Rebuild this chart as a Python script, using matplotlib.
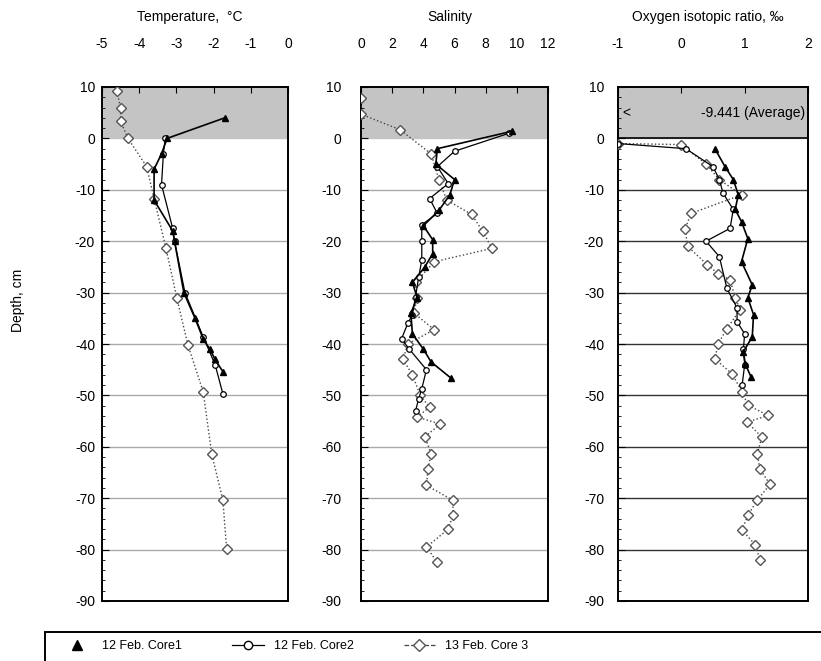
import matplotlib
matplotlib.use("Agg")
import matplotlib.pyplot as plt
from matplotlib.patches import Rectangle
from matplotlib.lines import Line2D

plt.rcParams['font.family'] = ['Liberation Sans', 'DejaVu Sans']
plt.rcParams['font.size'] = 10
plt.rcParams['axes.unicode_minus'] = False

# temperature, deg C
t_d1 = [4, 0, -3, -6, -12, -18, -20, -30, -35, -39, -41, -43, -45.4]
t_v1 = [-1.7, -3.25, -3.4, -3.6, -3.6, -3.1, -3.05, -2.8, -2.5, -2.28, -2.1, -1.96, -1.75]
t_d2 = [0, -3, -9, -17.5, -20, -30, -38.6, -44, -49.7]
t_v2 = [-3.3, -3.35, -3.4, -3.1, -3.05, -2.77, -2.28, -1.96, -1.75]
t_d3 = [9.2, 5.9, 3.3, 0, -5.5, -11.7, -21.4, -31, -40.2, -49.3, -61.4, -70.4, -79.9]
t_v3 = [-4.6, -4.5, -4.5, -4.3, -3.8, -3.6, -3.28, -2.99, -2.69, -2.28, -2.05, -1.75, -1.65]

# salinity
s_d1 = [1.4, -2, -5, -8, -11, -14, -17, -19.7, -22.4, -25, -28, -31, -34, -38, -41, -43.5, -46.7]
s_v1 = [9.7, 4.9, 4.8, 6.0, 5.7, 5.0, 4.0, 4.6, 4.6, 4.1, 3.3, 3.6, 3.2, 3.3, 4.0, 4.5, 5.8]
s_d2 = [1, -2.5, -5.5, -8.8, -11.7, -14.6, -16.8, -20, -23.7, -27, -30.8, -34.3, -36, -39, -41, -45, -48.7, -50.7, -53]
s_v2 = [9.5, 6.0, 4.9, 5.6, 4.4, 4.9, 3.9, 3.9, 3.9, 3.7, 3.5, 3.3, 3.0, 2.6, 3.1, 4.2, 3.9, 3.7, 3.5]
s_d3 = [7.8, 4.7, 1.7, -3, -8, -12, -14.8, -18, -21.4, -24, -28, -31, -34, -37.2, -40, -43, -46, -50, -52.3,
        -54.2, -55.6, -58, -61.4, -64.3, -67.5, -70.4, -73.3, -76, -79.5, -82.5]
s_v3 = [0, 0, 2.5, 4.5, 5.0, 5.5, 7.1, 7.8, 8.4, 4.7, 3.5, 3.6, 3.4, 4.7, 3.0, 2.7, 3.3, 3.8, 4.4,
        3.6, 5.1, 4.1, 4.5, 4.3, 4.2, 5.9, 5.9, 5.6, 4.2, 4.9]

# oxygen isotopic ratio, permil
o_d1 = [-2, -5.5, -8, -11, -13.8, -16.2, -19.5, -24, -28.5, -31, -34.3, -38.6, -41.5, -43.9, -46.4]
o_v1 = [0.53, 0.69, 0.82, 0.9, 0.85, 0.95, 1.05, 0.95, 1.12, 1.05, 1.14, 1.12, 0.98, 1.01, 1.1]
o_d2 = [-1, -2, -5.5, -8, -10.7, -13.8, -17.5, -20, -23, -29.2, -33, -35.7, -38, -41, -44, -48]
o_v2 = [-1.0, 0.07, 0.5, 0.6, 0.66, 0.82, 0.77, 0.39, 0.6, 0.72, 0.88, 0.88, 1.0, 0.98, 1.0, 0.96]
o_d3 = [-1, -1.2, -5, -8, -11, -14.6, -17.7, -21, -24.6, -26.3, -27.5, -31, -33.3, -37, -40, -42.9, -45.8,
        -49.3, -51.9, -53.9, -55.2, -58.1, -61.4, -64.3, -67.3, -70.4, -73.3, -76.2, -79.1, -82]
o_v3 = [-1.0, 0.0, 0.39, 0.6, 0.95, 0.15, 0.06, 0.1, 0.41, 0.58, 0.77, 0.85, 0.93, 0.72, 0.58, 0.53, 0.80,
        0.96, 1.05, 1.37, 1.04, 1.27, 1.2, 1.24, 1.4, 1.2, 1.05, 0.96, 1.17, 1.24]

titles = ["Temperature,  \u00b0C", "Salinity", "Oxygen isotopic ratio, \u2030"]
xlims = [(-5, 0), (0, 12), (-1, 2)]
xticks = [[-5, -4, -3, -2, -1, 0], [0, 2, 4, 6, 8, 10, 12], [-1, 0, 1, 2]]
yticks = [10, 0, -10, -20, -30, -40, -50, -60, -70, -80, -90]
labels = ["12 Feb. Core1", "12 Feb. Core2", "13 Feb. Core 3"]

data = [
    [(t_v1, t_d1), (t_v2, t_d2), (t_v3, t_d3)],
    [(s_v1, s_d1), (s_v2, s_d2), (s_v3, s_d3)],
    [(o_v1, o_d1), (o_v2, o_d2), (o_v3, o_d3)],
]

fig = plt.figure(figsize=(8.21, 6.61), dpi=100)
lefts = [102, 361, 618]
widths = [186, 187, 190]
ypads = [5, 14, 10]
grid_col = ["#aaaaaa", "#aaaaaa", "#333333"]

for i in range(3):
    ax = fig.add_axes([lefts[i] / 821, 60 / 661, widths[i] / 821, 514 / 661])
    ax.set_xlim(*xlims[i])
    ax.set_ylim(-90, 10)
    ax.axhspan(0, 10, color="#c4c4c4", zorder=0)
    for yv in range(-10, -90, -10):
        ax.axhline(yv, color=grid_col[i], lw=1.0, zorder=1)
    if i == 2:
        ax.axhline(0, color="black", lw=1.2, zorder=1)
        ax.text(-0.93, 5, "<", ha="left", va="center", fontsize=10)
        ax.text(1.95, 5, "-9.441 (Average)", ha="right", va="center", fontsize=10)

    (x1, y1), (x2, y2), (x3, y3) = data[i]
    ax.plot(x3, y3, ls=":", color="#444444", lw=1.0, marker="D", ms=5,
            mfc="white", mec="#555555", mew=1.0, zorder=3)
    ax.plot(x2, y2, ls="-", color="black", lw=0.9, marker="o", ms=4,
            mfc="white", mec="black", mew=0.9, zorder=4)
    ax.plot(x1, y1, ls="-", color="black", lw=1.2, marker="^", ms=5,
            mfc="black", mec="black", zorder=5)

    ax.xaxis.tick_top()
    ax.set_xticks(xticks[i])
    ax.set_yticks(yticks)
    ax.set_yticks(range(-90, 11, 2), minor=True)
    ax.tick_params(axis="x", which="both", direction="in", pad=26, labelsize=10, length=4)
    ax.tick_params(axis="y", which="major", direction="in", pad=ypads[i], labelsize=10, length=5)
    ax.tick_params(axis="y", which="minor", direction="in", length=2.5)
    for sp in ax.spines.values():
        sp.set_linewidth(1.4)
    fig.text((lefts[i] + widths[i] / 2 - 5) / 821, 1 - 17 / 661, titles[i],
             ha="center", va="center", fontsize=10)

fig.text(18 / 821, 1 - 300 / 661, "Depth, cm", rotation=90, ha="center", va="center", fontsize=10)

# legend box at the bottom
fig.patches.append(Rectangle((45 / 821, -0.02), 1.0, (661 - 632) / 661 + 0.02,
                             transform=fig.transFigure, fill=False, lw=1.4, ec="black"))
handles = [
    Line2D([], [], ls="none", marker="^", ms=7, color="black"),
    Line2D([], [], ls="-", lw=0.9, color="black", marker="o", ms=6, mfc="white", mec="black"),
    Line2D([], [], ls="--", lw=0.9, color="#444444", marker="D", ms=6, mfc="white", mec="#555555"),
]
fig.legend(handles, labels, ncol=3, loc="center left", bbox_to_anchor=(50 / 821, 15 / 661),
           frameon=False, fontsize=9, columnspacing=4, handlelength=2.5)

fig.savefig("out.png", dpi=100)
